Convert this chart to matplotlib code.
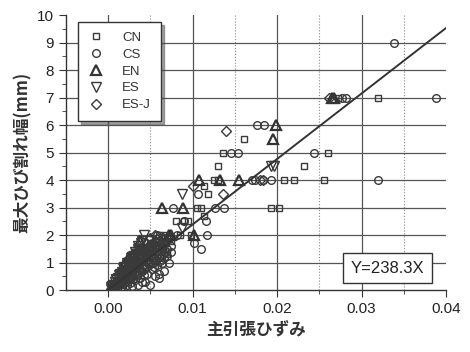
import matplotlib.pyplot as plt
import numpy as np

plt.rcParams['font.family'] = ['Liberation Sans', 'Noto Sans CJK JP', 'DejaVu Sans']

# principal tensile strain vs. max crack width (mm)
cn_x = [0.0005, 0.0008, 0.0010, 0.0012, 0.0015, 0.0018, 0.0020, 0.0022, 0.0025, 0.0028,
        0.0030, 0.0032, 0.0035, 0.0038, 0.0040, 0.0043, 0.0045, 0.0048, 0.0050, 0.0055,
        0.0060, 0.0065, 0.0070, 0.0075, 0.0022, 0.0026, 0.0030, 0.0034, 0.0038, 0.0042,
        0.0046, 0.0050, 0.0055, 0.0060, 0.0015, 0.0020, 0.0028, 0.0065, 0.0070,
        0.0006, 0.0012, 0.0018, 0.0024, 0.0030, 0.0036, 0.0040, 0.0044, 0.0048, 0.0052,
        0.0056, 0.0060, 0.0064, 0.0068, 0.0072, 0.0016, 0.0024, 0.0032, 0.0040, 0.0048,
        0.0058, 0.0066,
        0.0009, 0.0014, 0.0019, 0.0023, 0.0027, 0.0031, 0.0035, 0.0039, 0.0043, 0.0047,
        0.0051, 0.0055, 0.0059, 0.0063, 0.0067,
        0.0080, 0.0090, 0.0095, 0.0105, 0.0110, 0.0118, 0.0113, 0.0125, 0.0130, 0.0136,
        0.0161, 0.0193, 0.0202, 0.0208, 0.0220, 0.0256, 0.0232, 0.0260, 0.0320, 0.0272,
        0.0085, 0.0098, 0.0130, 0.0113]
cn_y = [0.10, 0.15, 0.20, 0.30, 0.35, 0.40, 0.50, 0.60, 0.70, 0.80,
        0.90, 1.00, 1.10, 1.20, 1.30, 1.40, 1.50, 1.60, 1.70, 1.80,
        2.00, 2.00, 1.90, 1.80, 0.40, 0.50, 0.60, 0.80, 1.00, 1.10,
        1.20, 1.40, 1.50, 1.60, 0.60, 0.80, 1.20, 1.50, 1.30,
        0.05, 0.10, 0.20, 0.30, 0.40, 0.55, 0.70, 0.85, 1.00, 1.15,
        1.30, 1.40, 1.55, 1.70, 1.85, 0.45, 0.75, 0.95, 1.25, 1.45,
        1.75, 1.90,
        0.25, 0.35, 0.55, 0.65, 0.75, 0.85, 1.05, 1.15, 1.25, 1.35,
        1.50, 1.60, 1.65, 1.75, 1.80,
        2.50, 2.50, 2.50, 3.00, 3.00, 3.50, 3.80, 4.00, 4.50, 5.00,
        5.50, 3.00, 3.00, 4.00, 4.00, 4.00, 4.50, 5.00, 7.00, 7.00,
        2.00, 2.00, 4.00, 2.70]

cs_x = [0.0012, 0.0018, 0.0025, 0.0030, 0.0035, 0.0040, 0.0045, 0.0050, 0.0055, 0.0060,
        0.0065, 0.0070, 0.0075, 0.0066, 0.0060, 0.0050, 0.0040, 0.0060,
        0.0035, 0.0028, 0.0072, 0.0056, 0.0044, 0.0064, 0.0110,
        0.0008, 0.0015, 0.0022, 0.0032, 0.0038, 0.0046, 0.0052, 0.0058, 0.0062, 0.0066,
        0.0070, 0.0074, 0.0026, 0.0042, 0.0054,
        0.0010, 0.0016, 0.0020, 0.0027, 0.0033, 0.0037, 0.0043, 0.0049, 0.0053, 0.0057,
        0.0063, 0.0068,
        0.0077, 0.0106, 0.0126, 0.0137, 0.0117, 0.0058, 0.0082, 0.0090,
        0.0146, 0.0154, 0.0176, 0.0185, 0.0244, 0.0338, 0.0277, 0.0282, 0.0388,
        0.0174, 0.0183, 0.0193, 0.0170, 0.0319, 0.0102, 0.0116]
cs_y = [0.20, 0.30, 0.40, 0.50, 0.60, 0.70, 0.80, 1.00, 1.10, 1.20,
        1.30, 1.50, 1.60, 0.70, 0.45, 0.20, 0.30, 0.60,
        0.20, 0.15, 1.00, 0.50, 0.30, 1.00, 1.50,
        0.05, 0.10, 0.20, 0.35, 0.45, 0.60, 0.75, 0.90, 1.05, 1.15,
        1.25, 1.40, 0.25, 0.55, 0.85,
        0.10, 0.25, 0.30, 0.45, 0.55, 0.65, 0.75, 0.90, 1.00, 1.05,
        1.20, 1.40,
        3.00, 3.50, 3.00, 3.00, 2.00, 2.00, 2.00, 2.50,
        5.00, 5.00, 6.00, 6.00, 5.00, 9.00, 7.00, 7.00, 7.00,
        4.00, 4.00, 4.00, 4.00, 4.00, 1.70, 2.50]

en_x = [0.0005, 0.0010, 0.0015, 0.0020, 0.0025, 0.0030, 0.0036, 0.0038,
        0.0064, 0.0089, 0.0072, 0.0074, 0.0102,
        0.0108, 0.0132, 0.0155, 0.0199, 0.0195, 0.0265, 0.0268]
en_y = [0.10, 0.30, 0.50, 1.00, 1.20, 1.30, 1.50, 1.80,
        3.00, 3.00, 2.00, 2.00, 2.00,
        4.00, 4.00, 4.00, 6.00, 5.50, 7.00, 7.00]

es_x = [0.0005, 0.0008, 0.0010, 0.0014, 0.0015, 0.0018, 0.0020, 0.0022, 0.0025, 0.0028,
        0.0030, 0.0032, 0.0036, 0.0040, 0.0042, 0.0045, 0.0050,
        0.0003, 0.0006, 0.0012, 0.0016, 0.0024, 0.0028, 0.0034, 0.0038,
        0.0004, 0.0009, 0.0013, 0.0019, 0.0023, 0.0027, 0.0031, 0.0035, 0.0039,
        0.0088, 0.0088, 0.0193, 0.0196]
es_y = [0.15, 0.30, 0.40, 0.60, 0.50, 0.80, 0.70, 1.00, 0.80, 1.20,
        1.00, 1.40, 1.60, 1.80, 2.00, 1.50, 1.80,
        0.05, 0.20, 0.45, 0.65, 0.95, 1.05, 1.30, 1.45,
        0.10, 0.35, 0.55, 0.85, 0.90, 1.15, 1.25, 1.50, 1.70,
        2.25, 3.50, 4.50, 4.50]

esj_x = [0.0010, 0.0015, 0.0020, 0.0025, 0.0030, 0.0035, 0.0040, 0.0045, 0.0050, 0.0055,
         0.0035, 0.0040, 0.0045, 0.0050, 0.0055, 0.0060, 0.0065, 0.0030, 0.0025, 0.0020,
         0.0004, 0.0008, 0.0012, 0.0018, 0.0022, 0.0028, 0.0033, 0.0038, 0.0043, 0.0048,
         0.0053, 0.0058, 0.0026, 0.0032, 0.0037, 0.0042, 0.0047, 0.0052, 0.0057, 0.0062,
         0.0007, 0.0011, 0.0016, 0.0021, 0.0027, 0.0031, 0.0036, 0.0041, 0.0046, 0.0051,
         0.0056, 0.0061, 0.0066,
         0.0101, 0.0136, 0.0183, 0.0262, 0.0140, 0.0180]
esj_y = [0.20, 0.40, 0.60, 0.90, 1.10, 1.30, 1.50, 1.70, 1.90, 2.00,
         1.00, 1.20, 1.30, 1.50, 1.60, 1.80, 1.90, 0.80, 0.60, 0.40,
         0.05, 0.15, 0.30, 0.50, 0.70, 0.85, 1.00, 1.15, 1.35, 1.55,
         1.70, 1.85, 0.45, 0.65, 0.75, 0.90, 1.10, 1.25, 1.40, 1.55,
         0.10, 0.25, 0.45, 0.55, 0.70, 0.95, 1.20, 1.40, 1.45, 1.65,
         1.80, 1.70, 1.85,
         3.80, 3.50, 4.00, 7.00, 5.80, 4.00]

slope = 238.3

fig, ax = plt.subplots(figsize=(4.7, 3.52), dpi=100)
fig.subplots_adjust(left=0.140, right=0.949, bottom=0.176, top=0.957)

ec = '#3a3a3a'
ax.set_xlim(-0.005, 0.04)
ax.set_ylim(0, 10)

for v in [0.0, 0.01, 0.02, 0.03]:
    ax.axvline(v, color='#555555', lw=0.9, zorder=1)
for v in [0.005, 0.015, 0.025, 0.035]:
    ax.axvline(v, color='#888888', lw=0.8, ls=':', zorder=1)
for v in range(1, 10):
    ax.axhline(v, color='#555555', lw=0.9, zorder=1)

# hollow markers so the dense band near the origin builds up dark
ax.plot(cn_x, cn_y, 's', ms=5, mfc='none', mec=ec, mew=1.0, label='CN', zorder=3)
ax.plot(cs_x, cs_y, 'o', ms=5.5, mfc='none', mec=ec, mew=1.0, label='CS', zorder=3)
ax.plot(en_x, en_y, '^', ms=7, mfc='none', mec='#333333', mew=1.6, label='EN', zorder=3)
ax.plot(es_x, es_y, 'v', ms=6.5, mfc='none', mec=ec, mew=1.0, label='ES', zorder=3)
ax.plot(esj_x, esj_y, 'D', ms=5, mfc='none', mec=ec, mew=1.0, label='ES-J', zorder=3)

xs = np.array([0.0, 0.04])
ax.plot(xs, slope * xs, color='#333333', lw=1.4, zorder=4)

ax.text(0.0331, 0.8, f'Y={slope}X', fontsize=12, color='#222222', ha='center', va='center',
        zorder=5, bbox=dict(boxstyle='square,pad=0.45', fc='white', ec='#333333', lw=1.0))

leg = ax.legend(loc='upper left', bbox_to_anchor=(0.015, 1.0), fontsize=9.5, frameon=True,
                fancybox=False, shadow=True, edgecolor='#333333', labelspacing=0.35,
                handletextpad=1.4, borderpad=0.75, handlelength=1.2, framealpha=1.0)
leg.get_frame().set_linewidth(1.0)
leg.set_zorder(6)
for t in leg.get_texts():
    t.set_color('#333333')

ax.spines['top'].set_visible(False)
ax.spines['right'].set_visible(False)
for s in ['left', 'bottom']:
    ax.spines[s].set_color('#333333')
    ax.spines[s].set_linewidth(1.0)

ax.set_xticks([0.0, 0.01, 0.02, 0.03, 0.04])
ax.set_xticklabels(['0.00', '0.01', '0.02', '0.03', '0.04'])
ax.set_xticks([0.005, 0.015, 0.025, 0.035], minor=True)
ax.set_yticks(range(0, 11))
ax.set_yticks(np.arange(0.5, 10, 1.0), minor=True)
ax.tick_params(which='major', direction='out', length=5, labelsize=11, labelcolor='#222222',
               color='#333333')
ax.tick_params(which='minor', direction='out', length=3, color='#333333')

ax.set_xlabel('主引張ひずみ', fontsize=12, fontweight='bold', color='#333333',
              family=['Noto Sans CJK JP'])
ax.set_ylabel('最大ひび割れ幅(mm)', fontsize=12, fontweight='bold', color='#333333',
              family=['Noto Sans CJK JP'])

fig.savefig('out.png', dpi=100)
